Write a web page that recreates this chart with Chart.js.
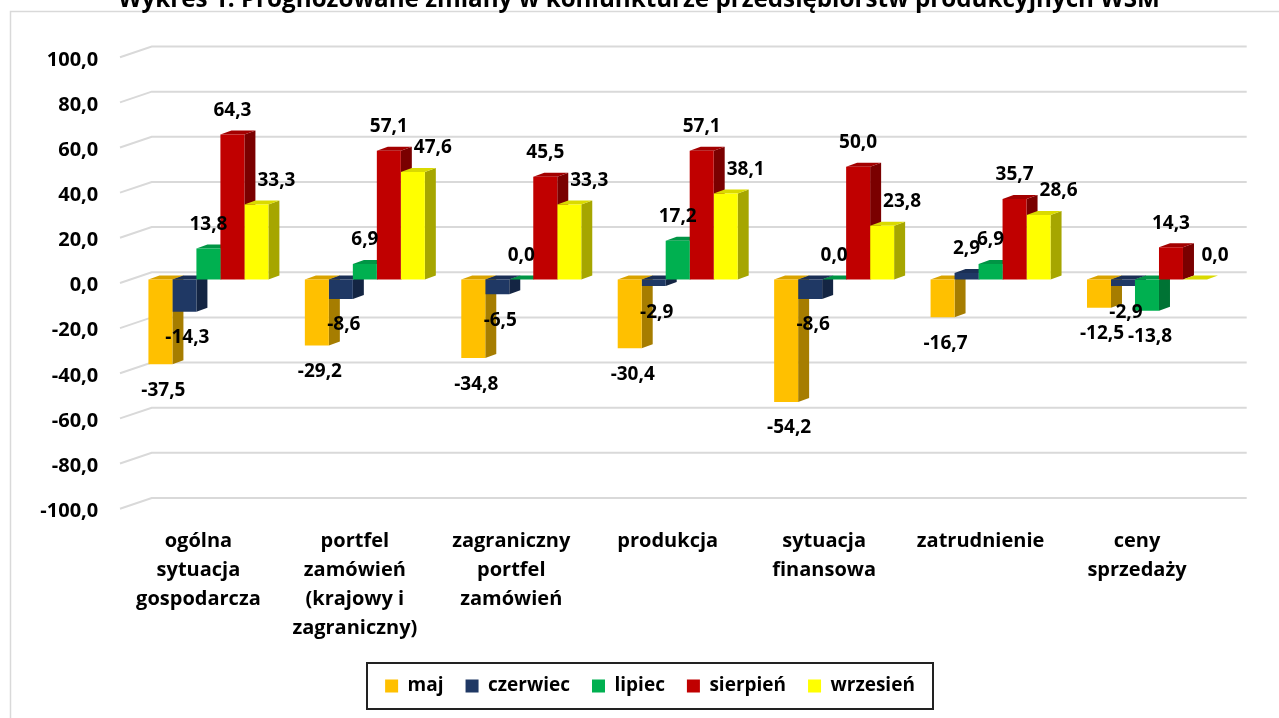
<!DOCTYPE html>
<html><head><meta charset="utf-8">
<script src="https://cdn.jsdelivr.net/npm/chart.js@4.4.1/dist/chart.umd.min.js"></script>
<style>html,body{margin:0;padding:0;background:#fff;overflow:hidden}</style>
</head><body>
<canvas id="c" width="1279" height="718"></canvas>
<script>
const titleText = "Wykres 1. Prognozowane zmiany w koniunkturze przedsiębiorstw produkcyjnych WSM";
const categories = [
  ["ogólna","sytuacja","gospodarcza"],
  ["portfel","zamówień","(krajowy i","zagraniczny)"],
  ["zagraniczny","portfel","zamówień"],
  ["produkcja"],
  ["sytuacja","finansowa"],
  ["zatrudnienie"],
  ["ceny","sprzedaży"]
];
const seriesNames = ["maj","czerwiec","lipiec","sierpień","wrzesień"];
const maj      = [-37.5, -29.2, -34.8, -30.4, -54.2, -16.7, -12.5];
const czerwiec = [-14.3,  -8.6,  -6.5,  -2.9,  -8.6,   2.9,  -2.9];
const lipiec   = [ 13.8,   6.9,   0.0,  17.2,   0.0,   6.9, -13.8];
const sierpien = [ 64.3,  57.1,  45.5,  57.1,  50.0,  35.7,  14.3];
const wrzesien = [ 33.3,  47.6,  33.3,  38.1,  23.8,  28.6,   0.0];
const yMin = -100, yMax = 100, yStep = 20;

const frontColors = ["#FFC000","#1F3864","#00B050","#C00000","#FFFF00"];
const sideColors  = ["#A67D00","#142543","#007334","#7A0000","#A6A600"];
const topColors   = ["#D9A300","#1A2F55","#009545","#A30000","#DADA00"];
const labelDX     = [0, 0, 0, 0, 20];
const FONT = "'Open Sans'";
const LEG_SIZE = 19, LEG_PAD = 22;
const DX = 11, DY = -4;

const fmt = v => v.toFixed(1).replace('.', ',');

const threeD = {
  id: 'threeD',
  afterLayout(chart) {
    const lg = chart.legend;
    if (lg) {
      const d = 650 - (lg.left + lg.right) / 2;
      lg.left += d; lg.right += d;
    }
  },
  beforeDatasetsDraw(chart) {
    const ctx = chart.ctx, ys = chart.scales.y, a = chart.chartArea;
    ctx.save();
    ctx.strokeStyle = '#d9d9d9'; ctx.lineWidth = 2;
    ys.ticks.forEach(t => {
      const py = ys.getPixelForValue(t.value);
      ctx.beginPath();
      ctx.moveTo(a.left - 10.2, py + 3.4);
      ctx.lineTo(a.left + 21.5, py - 7.3);
      ctx.lineTo(a.right + 21.5, py - 7.3);
      ctx.stroke();
    });
    const n = chart.data.labels.length, m = chart.data.datasets.length;
    for (let i = 0; i < n; i++) {
      for (let d = 0; d < m; d++) {
        const el = chart.getDatasetMeta(d).data[i];
        const p = el.getProps(['x','y','base','width'], true);
        const l = p.x - p.width/2, r = p.x + p.width/2;
        const top = Math.min(p.y, p.base), bot = Math.max(p.y, p.base);
        ctx.fillStyle = sideColors[d];
        ctx.beginPath();
        ctx.moveTo(r, top); ctx.lineTo(r + DX, top + DY); ctx.lineTo(r + DX, bot + DY); ctx.lineTo(r, bot);
        ctx.closePath(); ctx.fill();
        ctx.fillStyle = topColors[d];
        ctx.beginPath();
        ctx.moveTo(l, top); ctx.lineTo(r, top); ctx.lineTo(r + DX, top + DY); ctx.lineTo(l + DX, top + DY);
        ctx.closePath(); ctx.fill();
      }
    }
    ctx.restore();
  },
  afterDatasetsDraw(chart) {
    const ctx = chart.ctx;
    ctx.save();
    ctx.font = 'bold 19px ' + FONT;
    ctx.fillStyle = '#000';
    ctx.textAlign = 'center'; ctx.textBaseline = 'middle';
    chart.data.datasets.forEach((ds, d) => {
      chart.getDatasetMeta(d).data.forEach((el, i) => {
        const v = ds.data[i];
        const p = el.getProps(['x','y','base'], true);
        let lx, ly;
        if (v >= 0) { lx = p.x + labelDX[d]; ly = Math.min(p.y, p.base) - 24; }
        else { lx = p.x + 3; ly = p.y + 26; }
        ctx.fillText(fmt(v), lx, ly);
      });
    });
    ctx.restore();
  },
  afterDraw(chart) {
    const ctx = chart.ctx;
    ctx.save();
    ctx.strokeStyle = '#d9d9d9'; ctx.lineWidth = 1.5;
    ctx.strokeRect(10.5, 11.5, 1400, 900);
    ctx.font = 'bold 22px ' + FONT;
    const w = ctx.measureText(titleText).width;
    const fs = 22 * 1042 / w;
    ctx.font = 'bold ' + fs.toFixed(2) + 'px ' + FONT;
    ctx.fillStyle = '#000'; ctx.textAlign = 'center'; ctx.textBaseline = 'alphabetic';
    ctx.fillText(titleText, 639, 7);
    const lg = chart.legend;
    if (lg && lg.lineWidths) {
      const pad = lg.options.labels.padding;
      const lw = lg.lineWidths[0];
      const startX = (lg.left + pad + lg.right - lw) / 2;
      const endX = startX + lw - pad;
      const cy = lg.top + pad + LEG_SIZE / 2;
      ctx.strokeStyle = '#222'; ctx.lineWidth = 2;
      ctx.strokeRect(Math.round(startX - 18), Math.round(cy - 23), Math.round(endX - startX + 36), 46);
    }
    ctx.restore();
  }
};

const allSeries = [maj, czerwiec, lipiec, sierpien, wrzesien];
const legendH = Math.max(LEG_SIZE, 13) + LEG_PAD + 10;
const padBottom = 718 - (686 - LEG_PAD - LEG_SIZE / 2) - legendH;
const plotBottom = 505.3;
const xAxisH = 718 - padBottom - legendH - plotBottom;

new Chart(document.getElementById('c'), {
  type: 'bar',
  data: {
    labels: categories,
    datasets: allSeries.map((s, k) => ({
      label: seriesNames[k], data: s,
      backgroundColor: frontColors[k], borderWidth: 0,
      categoryPercentage: 0.767, barPercentage: 1.0
    }))
  },
  options: {
    responsive: false, animation: false, devicePixelRatio: 1,
    layout: { padding: { top: 53.8, left: 0, right: 1279 - 1225.2, bottom: padBottom } },
    scales: {
      x: {
        grid: { display: false, drawTicks: false }, border: { display: false },
        ticks: { font: { family: FONT, size: 20, weight: 'bold', lineHeight: 1.45 }, color: '#000',
                 maxRotation: 0, minRotation: 0, autoSkip: false, padding: 21, labelOffset: -10 },
        afterFit(s) { s.height = xAxisH; }
      },
      y: {
        min: yMin, max: yMax,
        grid: { display: false, drawTicks: false }, border: { display: false },
        ticks: { stepSize: yStep, font: { family: FONT, size: 20, weight: 'bold' }, color: '#000',
                 padding: 32, labelOffset: 6, callback: v => fmt(v) },
        afterFit(s) { s.width = 130.2; }
      }
    },
    plugins: {
      legend: { position: 'bottom',
        labels: { boxWidth: 13, boxHeight: 13, padding: LEG_PAD, color: '#000',
                  font: { family: FONT, size: LEG_SIZE, weight: 'bold' } } },
      tooltip: { enabled: false }
    }
  },
  plugins: [threeD]
});
</script>
</body></html>
